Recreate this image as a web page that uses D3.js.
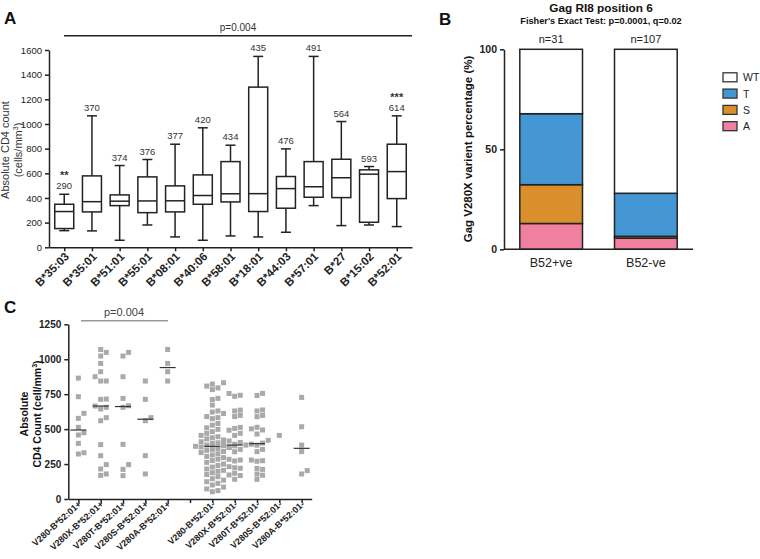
<!DOCTYPE html>
<html>
<head>
<meta charset="utf-8">
<script src="https://cdn.jsdelivr.net/npm/d3@7"></script>
<style>
  body { margin: 0; background: #fff; }
  svg { display: block; font-family: "Liberation Sans", Arial, sans-serif; }
</style>
</head>
<body>
<svg width="760" height="559"></svg>
<script>
// ---- panel A data: HLA-B alleles vs CD4 count (box plots)
var alleles = ['B*35:03', 'B*35:01', 'B*51:01', 'B*55:01', 'B*08:01', 'B*40:06', 'B*58:01', 'B*18:01', 'B*44:03', 'B*57:01', 'B*27', 'B*15:02', 'B*52:01'];
var boxLow = [135, 133, 57, 181, 84, 57, 92, 84, 122, 338, 176, 181, 168];
var boxQ1 = [152, 287, 338, 281, 287, 349, 368, 290, 317, 406, 403, 203, 395];
var boxMedian = [290, 370, 374, 376, 377, 420, 434, 435, 476, 491, 564, 593, 614];
var boxQ3 = [349, 579, 425, 571, 498, 587, 695, 1299, 574, 695, 714, 628, 836];
var boxHigh = [430, 1066, 663, 712, 836, 969, 828, 1548, 798, 1548, 1020, 655, 1066];
var boxStars = ['**', '', '', '', '', '', '', '', '', '', '', '', '***'];
var ticksA = [0, 200, 400, 600, 800, 1000, 1200, 1400, 1600];

// ---- panel B data: variant percentages
var groupsB = ['B52+ve', 'B52-ve'];
var groupN = ['n=31', 'n=107'];
var variants = ['A', 'S', 'T', 'WT'];
var variantColors = ['#f07fa0', '#d98f2b', '#4597d3', '#ffffff'];
var pctA = [12.9, 5.6];
var pctS = [19.4, 0.9];
var pctT = [35.5, 21.5];
var pctWT = [32.2, 72.0];
var ticksB = [0, 50, 100];

// ---- panel C data: CD4 count by V280 variant and B*52:01 status
var groupsC = ['V280-B*52:01+', 'V280X-B*52:01+', 'V280T-B*52:01+', 'V280S-B*52:01+', 'V280A-B*52:01+', '',
  'V280-B*52:01-', 'V280X-B*52:01-', 'V280T-B*52:01-', 'V280S-B*52:01-', 'V280A-B*52:01-'];
var cdV280pos = [865, 732, 613, 577, 513, 474, 458, 398, 331, 322];
var cdV280Xpos = [1070, 1049, 1023, 970, 911, 875, 844, 844, 715, 713, 665, 656, 644, 582, 560, 389, 310, 246, 215, 179, 169];
var cdV280Tpos = [1049, 1023, 875, 720, 667, 656, 391, 246, 212, 167];
var cdV280Spos = [844, 713, 582, 560, 310, 179];
var cdV280Apos = [1070, 970, 911, 844];
var cdV280neg = [832, 822, 808, 795, 783, 720, 712, 672, 630, 622, 612, 590, 582, 575, 540, 528, 510, 498, 482, 470,
  455, 446, 438, 430, 422, 415, 410, 402, 398, 392, 386, 381, 377, 372, 368, 362, 355, 348, 340, 332, 324, 315, 305,
  296, 285, 275, 262, 250, 240, 228, 215, 205, 198, 188, 175, 160, 145, 135, 124, 112, 100, 85, 72, 60, 52];
var cdV280Xneg = [755, 742, 735, 636, 630, 598, 590, 512, 505, 492, 470, 455, 405, 392, 386, 380, 370, 355, 338, 284, 279, 272, 231, 224, 220, 184, 172, 168, 141];
var cdV280Tneg = [756, 741, 637, 630, 598, 589, 513, 502, 494, 465, 420, 400, 392, 385, 355, 339, 279, 274, 270, 219, 212, 179, 170, 141];
var cdV280Sneg = [455];
var cdV280Aneg = [727, 517, 386, 339, 203, 179];
var ticksC = [0, 250, 500, 750, 1000, 1250];

var svg = d3.select('svg');
var ink = '#222';

var panelLetter = function(x, y, t) {
  svg.append('text').attr('x', x).attr('y', y).attr('font-size', '17px')
    .attr('font-weight', 'bold').attr('fill', '#111').text(t);
};
var styleAxis = function(g, size, weight) {
  g.selectAll('path, line').attr('stroke', ink).attr('stroke-width', 1.5);
  g.selectAll('text').attr('font-family', null).attr('font-size', size)
    .attr('font-weight', weight).attr('fill', ink);
};

// ================= Panel A =================
panelLetter(4, 24, 'A');
var xA = d3.scalePoint().domain(alleles).range([49, 412]).padding(0.55);
var yA = d3.scaleLinear().domain([0, 1600]).range([247.3, 50]);

var gA = svg.append('g');
var boxW = 19, capW = 10;
alleles.forEach(function(a, i) {
  var cx = xA(a);
  var g = gA.append('g').attr('stroke', ink).attr('stroke-width', 1.5).attr('fill', 'none');
  g.append('line').attr('x1', cx).attr('x2', cx).attr('y1', yA(boxHigh[i])).attr('y2', yA(boxQ3[i]));
  g.append('line').attr('x1', cx).attr('x2', cx).attr('y1', yA(boxQ1[i])).attr('y2', yA(boxLow[i]));
  g.append('line').attr('x1', cx - capW / 2).attr('x2', cx + capW / 2).attr('y1', yA(boxHigh[i])).attr('y2', yA(boxHigh[i]));
  g.append('line').attr('x1', cx - capW / 2).attr('x2', cx + capW / 2).attr('y1', yA(boxLow[i])).attr('y2', yA(boxLow[i]));
  g.append('rect').attr('x', cx - boxW / 2).attr('width', boxW)
    .attr('y', yA(boxQ3[i])).attr('height', yA(boxQ1[i]) - yA(boxQ3[i])).attr('fill', '#fff');
  g.append('line').attr('x1', cx - boxW / 2).attr('x2', cx + boxW / 2).attr('y1', yA(boxMedian[i])).attr('y2', yA(boxMedian[i]));
  gA.append('text').attr('x', cx).attr('y', yA(boxHigh[i]) - 5).attr('text-anchor', 'middle')
    .attr('font-size', '9.5px').attr('fill', '#333').text(boxMedian[i]);
  if (boxStars[i]) {
    gA.append('text').attr('x', cx).attr('y', yA(boxHigh[i]) - 15).attr('text-anchor', 'middle')
      .attr('font-size', '11px').attr('font-weight', 'bold').attr('fill', '#333').text(boxStars[i]);
  }
});

var axA = svg.append('g').attr('transform', 'translate(49,0)')
  .call(d3.axisLeft(yA).tickValues(ticksA).tickFormat(d3.format('d')).tickSize(4).tickSizeOuter(0));
styleAxis(axA, '9.5px', 'normal');
var axAx = svg.append('g').attr('transform', 'translate(0,247.3)')
  .call(d3.axisBottom(xA).tickSize(4).tickSizeOuter(0));
styleAxis(axAx, '11.5px', 'bold');
axAx.selectAll('text').attr('text-anchor', 'end').attr('dx', null).attr('dy', null)
  .attr('transform', 'translate(5,10) rotate(-45)').attr('y', 0);

// p-value bar across A
svg.append('line').attr('x1', 64).attr('x2', 412).attr('y1', 35.7).attr('y2', 35.7)
  .attr('stroke', ink).attr('stroke-width', 1.5);
svg.append('text').attr('x', 238).attr('y', 31).attr('text-anchor', 'middle')
  .attr('font-size', '10px').attr('fill', '#333').text('p=0.004');

var titleA = svg.append('text').attr('transform', 'translate(9,150) rotate(-90)')
  .attr('text-anchor', 'middle').attr('font-size', '11px').attr('fill', '#333');
titleA.append('tspan').attr('x', 0).attr('dy', 0).text('Absolute CD4 count');
titleA.append('tspan').attr('x', 0).attr('dy', 13).text('(cells/mm').append('tspan').attr('font-size', '7px').attr('dy', -4).text('3');
titleA.append('tspan').attr('dy', 4).text(')');

// ================= Panel B =================
panelLetter(439, 25, 'B');
svg.append('text').attr('x', 601).attr('y', 12).attr('text-anchor', 'middle')
  .attr('font-size', '11.8px').attr('font-weight', 'bold').attr('fill', '#111').text('Gag RI8 position 6');
svg.append('text').attr('x', 601).attr('y', 24).attr('text-anchor', 'middle')
  .attr('font-size', '9.2px').attr('font-weight', 'bold').attr('fill', '#111').text("Fisher's Exact Test: p=0.0001, q=0.02");

var xB = d3.scaleBand().domain(groupsB).range([504, 693]).paddingInner(0.338).paddingOuter(0.167);
var yB = d3.scaleLinear().domain([0, 100]).range([249.3, 49.3]);
var color = d3.scaleOrdinal().domain(variants).range(variantColors);

var tableB = groupsB.map(function(g, i) {
  return { group: g, A: pctA[i], S: pctS[i], T: pctT[i], WT: pctWT[i] };
});
var stacked = d3.stack().keys(variants)(tableB);
svg.append('g').selectAll('g').data(stacked).enter().append('g')
  .attr('fill', function(d) { return color(d.key); })
  .selectAll('rect').data(function(d) { return d; }).enter().append('rect')
  .attr('x', function(d) { return xB(d.data.group); })
  .attr('width', xB.bandwidth())
  .attr('y', function(d) { return yB(d[1]); })
  .attr('height', function(d) { return yB(d[0]) - yB(d[1]); })
  .attr('stroke', ink).attr('stroke-width', 1.5);

groupsB.forEach(function(g, i) {
  svg.append('text').attr('x', xB(g) + xB.bandwidth() / 2).attr('y', 43).attr('text-anchor', 'middle')
    .attr('font-size', '11px').attr('fill', '#222').text(groupN[i]);
});

var axB = svg.append('g').attr('transform', 'translate(504,0)')
  .call(d3.axisLeft(yB).tickValues(ticksB).tickSize(4).tickSizeOuter(0));
styleAxis(axB, '10.5px', 'bold');
var axBx = svg.append('g').attr('transform', 'translate(0,249.3)')
  .call(d3.axisBottom(xB).tickSize(0).tickSizeOuter(0).tickPadding(9));
styleAxis(axBx, '12.5px', 'normal');
axBx.select('.domain').attr('d', 'M504,0H693');

svg.append('text').attr('transform', 'translate(472,149) rotate(-90)').attr('text-anchor', 'middle')
  .attr('font-size', '11.5px').attr('font-weight', 'bold').attr('fill', '#111')
  .text('Gag V280X varient percentage (%)');

var legend = svg.append('g');
['WT', 'T', 'S', 'A'].forEach(function(k, i) {
  var ly = 77.3 + i * 16.3;
  legend.append('rect').attr('x', 723).attr('y', ly - 4.5).attr('width', 14).attr('height', 9)
    .attr('fill', color(k)).attr('stroke', '#333').attr('stroke-width', 1.3);
  legend.append('text').attr('x', 743).attr('y', ly + 4).attr('font-size', '10.5px').attr('fill', '#222').text(k);
});

// ================= Panel C =================
panelLetter(4, 313, 'C');
var xC = d3.scalePoint().domain(groupsC).range([68.3, 311.7]).padding(0.45);
var yC = d3.scaleLinear().domain([0, 1250]).range([499, 324.3]);
var valuesC = [cdV280pos, cdV280Xpos, cdV280Tpos, cdV280Spos, cdV280Apos, [],
  cdV280neg, cdV280Xneg, cdV280Tneg, cdV280Sneg, cdV280Aneg];

var gC = svg.append('g');
var sq = 5, gap = 5.6;
groupsC.forEach(function(g, i) {
  var vals = valuesC[i].slice().sort(d3.ascending);
  if (!vals.length) return;
  var cx = xC(g);
  // simple dodge so squares do not sit on top of each other
  var placed = [];
  vals.forEach(function(v) {
    var y = yC(v);
    for (var k = 0; k < 20; k++) {
      var off = (k % 2 ? 1 : -1) * Math.ceil(k / 2) * gap;
      var hit = placed.some(function(p) { return Math.abs(p.x - off) < sq + 0.3 && Math.abs(p.y - y) < sq + 0.3; });
      if (!hit) { placed.push({ x: off, y: y }); break; }
    }
  });
  gC.append('g').selectAll('rect').data(placed).enter().append('rect')
    .attr('x', function(d) { return cx + d.x - sq / 2; })
    .attr('y', function(d) { return d.y - sq / 2; })
    .attr('width', sq).attr('height', sq).attr('fill', '#a9a9a9');
  if (vals.length > 1) {
    var m = d3.median(vals);
    gC.append('line').attr('x1', cx - 8).attr('x2', cx + 8).attr('y1', yC(m)).attr('y2', yC(m))
      .attr('stroke', '#333').attr('stroke-width', 1.2);
  }
});

var axC = svg.append('g').attr('transform', 'translate(68.3,0)')
  .call(d3.axisLeft(yC).tickValues(ticksC).tickFormat(d3.format('d')).tickSize(4).tickSizeOuter(0));
styleAxis(axC, '10px', 'bold');
var axCx = svg.append('g').attr('transform', 'translate(0,499)')
  .call(d3.axisBottom(xC).tickSize(4).tickSizeOuter(0));
styleAxis(axCx, '9px', 'bold');
axCx.selectAll('text').attr('text-anchor', 'end').attr('dx', null).attr('dy', null)
  .attr('transform', 'translate(3,6) rotate(-42)').attr('y', 0);

svg.append('line').attr('x1', 81).attr('x2', 168).attr('y1', 320.7).attr('y2', 320.7)
  .attr('stroke', '#999').attr('stroke-width', 1.5);
svg.append('text').attr('x', 124).attr('y', 316).attr('text-anchor', 'middle')
  .attr('font-size', '11px').attr('fill', '#444').text('p=0.004');

var titleC = svg.append('text').attr('transform', 'translate(28,414) rotate(-90)')
  .attr('text-anchor', 'middle').attr('font-size', '10.5px').attr('font-weight', 'bold').attr('fill', '#111');
titleC.append('tspan').attr('x', 0).attr('dy', 0).text('Absolute');
titleC.append('tspan').attr('x', 0).attr('dy', 12.5).text('CD4 Count (cell/mm').append('tspan').attr('font-size', '7px').attr('dy', -4).text('3');
titleC.append('tspan').attr('dy', 4).text(')');
</script>
</body>
</html>
